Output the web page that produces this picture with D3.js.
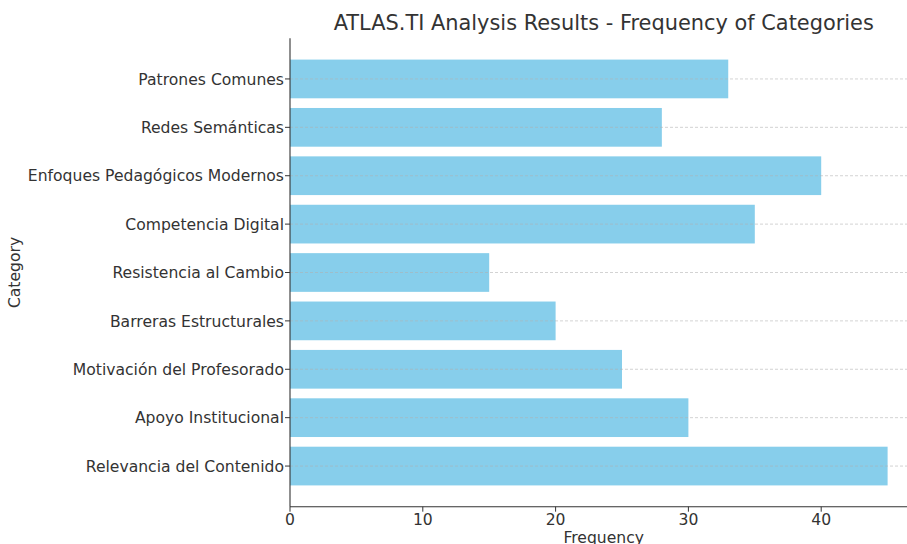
<!DOCTYPE html>
<html><head><meta charset="utf-8">
<script src="https://cdn.jsdelivr.net/npm/d3@7"></script>
<style>body{margin:0;background:#fff}svg{display:block}text{font-family:"DejaVu Sans",sans-serif;fill:#333}</style>
</head><body>
<svg id="c" width="907" height="544"></svg>
<script>
const categories = ["Patrones Comunes","Redes Semánticas","Enfoques Pedagógicos Modernos","Competencia Digital","Resistencia al Cambio","Barreras Estructurales","Motivación del Profesorado","Apoyo Institucional","Relevancia del Contenido"];
const frequencies = [33,28,40,35,15,20,25,30,45];
const xTicks = [0,10,20,30,40];

(function(){
const svg = d3.select("#c");
const L = 290, T = 38.3, B = 506.7;
const n = categories.length;
const fs = 15.6;
const x = d3.scaleLinear().domain([0, d3.max(frequencies)*1.05]).range([L, L + 47.25*13.28]);
const lo = -0.4, hi = n - 1 + 0.4, m = (hi - lo)*0.05;
const y = d3.scaleLinear().domain([lo - m, hi + m]).range([T, B]);
const bh = y(0.4) - y(-0.4);

svg.append("g").selectAll("rect").data(frequencies).join("rect")
  .attr("x", x(0)).attr("y", (d,i)=>y(i) - bh/2)
  .attr("width", d=>x(d)-x(0)).attr("height", bh)
  .attr("fill", "#87CEEB");

svg.append("g").selectAll("line").data(categories).join("line")
  .attr("x1", L).attr("x2", 907).attr("y1",(d,i)=>y(i)).attr("y2",(d,i)=>y(i))
  .attr("stroke","#b0b0b0").attr("stroke-opacity",0.7).attr("stroke-dasharray","3,2").attr("stroke-width",0.8);

const ya = svg.append("g");
ya.append("line").attr("x1",L).attr("x2",L).attr("y1",T).attr("y2",B).attr("stroke","#333").attr("stroke-width",1.1);
categories.forEach((c,i)=>{
  ya.append("line").attr("x1",L-5).attr("x2",L).attr("y1",y(i)).attr("y2",y(i)).attr("stroke","#333");
  ya.append("text").attr("x",L-6).attr("y",y(i)).attr("dy","0.36em").attr("text-anchor","end").attr("font-size",fs).text(c);
});
const xa = svg.append("g");
xa.append("line").attr("x1",L).attr("x2",907).attr("y1",B).attr("y2",B).attr("stroke","#333").attr("stroke-width",1.1);
xTicks.forEach(t=>{
  xa.append("line").attr("x1",x(t)).attr("x2",x(t)).attr("y1",B).attr("y2",B+5).attr("stroke","#333");
  xa.append("text").attr("x",x(t)).attr("y",B+6).attr("dy","0.76em").attr("text-anchor","middle").attr("font-size",fs).text(t);
});
svg.append("text").attr("x",(L+917.5)/2).attr("y",543).attr("text-anchor","middle").attr("font-size",fs).text("Frequency");
svg.append("text").attr("transform",`translate(20,${(T+B)/2}) rotate(-90)`).attr("text-anchor","middle").attr("font-size",fs).text("Category");
svg.append("text").attr("x",(L+917.5)/2).attr("y",30).attr("text-anchor","middle").attr("font-size",20.9).text("ATLAS.TI Analysis Results - Frequency of Categories");
})();
</script>
</body></html>
